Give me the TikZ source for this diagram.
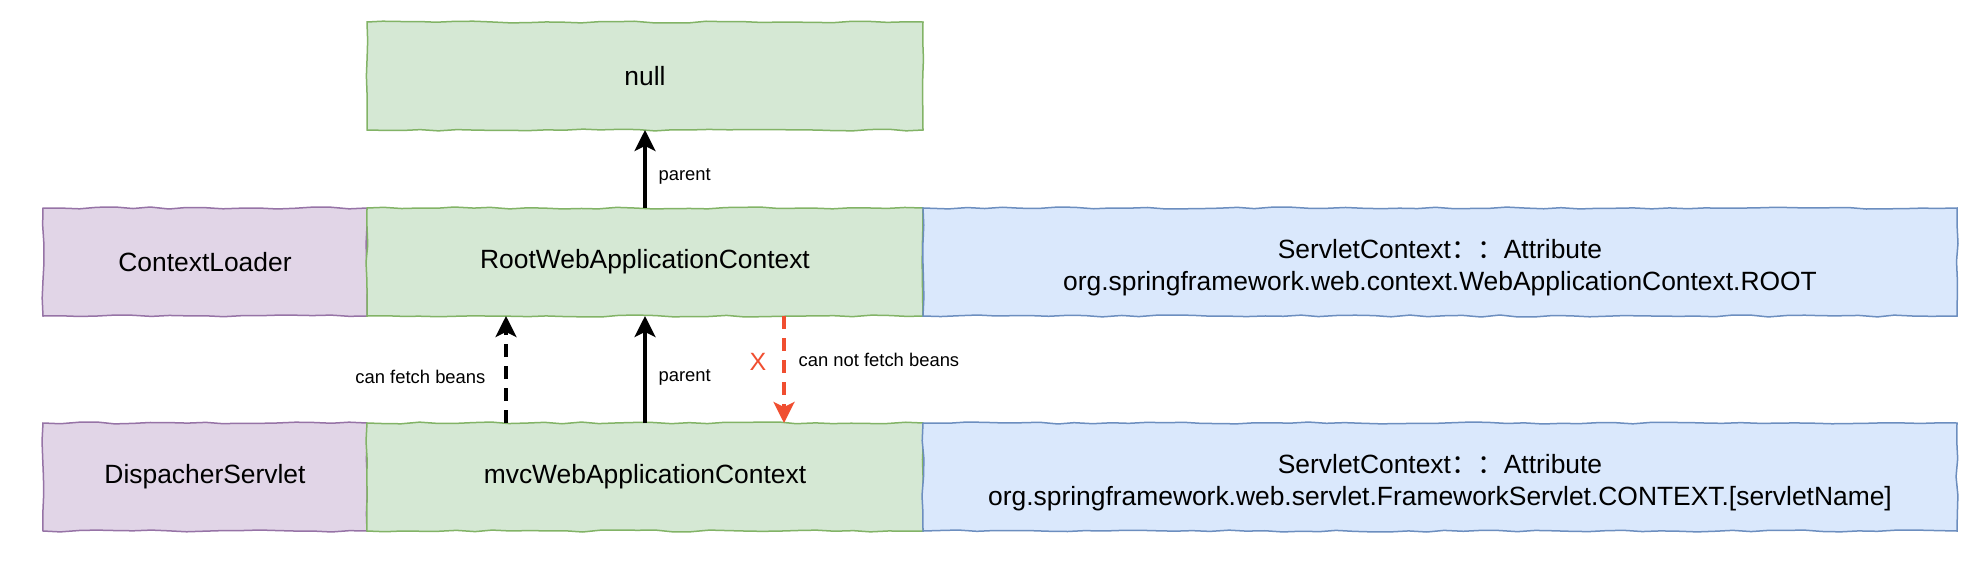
\documentclass[tikz,border=0pt]{standalone}
\usepackage{fontspec}
\setmainfont{Liberation Sans}
\newfontfamily\cjk{Noto Sans CJK SC}
\usepackage{tikz}
\usetikzlibrary{arrows.meta, positioning, decorations.pathmorphing}

\definecolor{greenfill}{HTML}{D5E8D4}
\definecolor{greenline}{HTML}{82B366}
\definecolor{purplefill}{HTML}{E1D5E7}
\definecolor{purpleline}{HTML}{9673A6}
\definecolor{bluefill}{HTML}{DAE8FC}
\definecolor{blueline}{HTML}{6C8EBF}
\definecolor{redlink}{HTML}{F04E30}

\begin{document}
\begin{tikzpicture}[x=0.5pt, y=-0.5pt,
    box/.style={draw, line width=0.75pt, inner sep=0pt, outer sep=0pt,
      minimum height=54pt, align=center,
      font=\fontsize{13.2}{16}\selectfont,
      decorate, decoration={random steps, segment length=9pt, amplitude=0.5pt}},
    greenbox/.style={box, fill=greenfill, draw=greenline, minimum width=278pt},
    purplebox/.style={box, fill=purplefill, draw=purpleline, minimum width=162pt},
    bluebox/.style={box, fill=bluefill, draw=blueline, minimum width=517pt},
    lbl/.style={font=\fontsize{9.2}{11}\selectfont, inner sep=0pt, text=black},
    link/.style={line width=1.6pt, -{Stealth[length=10.5pt, width=10.5pt, inset=2.5pt]}},
    dashlink/.style={link, dash pattern=on 6.5pt off 4.5pt},
  ]
    \pgfmathsetseed{7}
    \useasboundingbox (0,0) rectangle (1982,574);

    % upper row
    \node[purplebox, anchor=north west] (loader) at (43,208) {ContextLoader};
    \node[greenbox, right=0pt of loader] (root) {RootWebApplicationContext};
    \node[bluebox, right=0pt of root] (rootattr)
      {\rule{0pt}{15pt}ServletContext{\cjk ：：}Attribute\\org.springframework.web.context.WebApplicationContext.ROOT};
    \node[greenbox, above=39pt of root] (null) {null};

    % lower row
    \node[purplebox, below=53.5pt of loader] (dispatcher) {DispacherServlet};
    \node[greenbox, right=0pt of dispatcher] (mvc) {mvcWebApplicationContext};
    \node[bluebox, right=0pt of mvc] (mvcattr)
      {\rule{0pt}{15pt}ServletContext{\cjk ：：}Attribute\\org.springframework.web.servlet.FrameworkServlet.CONTEXT.[servletName]};

    % links
    \draw[link] (root.north) -- (null.south)
      node[lbl, pos=0.4, right=6pt] {parent};
    \draw[dashlink] ([xshift=-69.5pt]mvc.north) -- ([xshift=-69.5pt]root.south)
      node[lbl, pos=0.43, left=9.5pt] {can fetch beans};
    \draw[link] (mvc.north) -- (root.south)
      node[lbl, pos=0.43, right=6pt] {parent};
    \draw[dashlink, redlink] ([xshift=69.5pt]root.south) -- ([xshift=69.5pt]mvc.north)
      node[pos=0.43, left=8pt, inner sep=0pt, text=redlink, font=\fontsize{12.5}{14}\selectfont] {X}
      node[lbl, pos=0.41, right=6.5pt] {can not fetch beans};
\end{tikzpicture}
\end{document}
